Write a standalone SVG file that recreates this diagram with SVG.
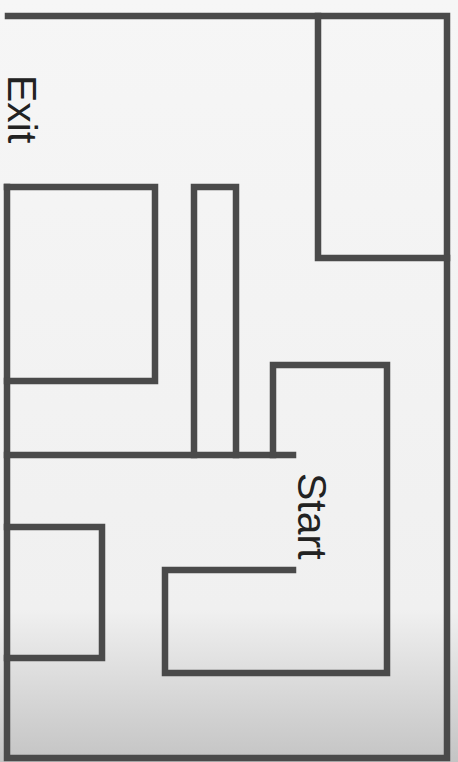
<svg xmlns="http://www.w3.org/2000/svg" width="458" height="762" viewBox="0 0 458 762">
<defs>
<linearGradient id="bg" x1="0" y1="0" x2="0" y2="1">
<stop offset="0" stop-color="#f6f6f6"/>
<stop offset="0.8" stop-color="#f0f0f0"/>
<stop offset="1" stop-color="#c4c4c4"/>
</linearGradient>
<style>
.w{fill:none;stroke:#4a4a4a;stroke-width:6.5;stroke-linecap:square;stroke-linejoin:miter}
.t{font-family:"Liberation Sans",Arial,sans-serif;font-size:41px;fill:#222}
</style>
</defs>
<rect x="0" y="0" width="458" height="762" fill="url(#bg)"/>
<g id="walls">
<g id="outer"><polyline class="w" points="8,16 447,16 447,758 7,758 7,187"/></g>
<g id="topRightRoom"><polyline class="w" points="318,16 318,258 447,258"/></g>
<g id="leftUpperRoom"><polyline class="w" points="7,187 155,187 155,381 7,381"/></g>
<g id="narrowRoom"><polyline class="w" points="194,455 194,187 236,187 236,455"/></g>
<g id="midWall"><polyline class="w" points="7,455 293,455"/></g>
<g id="startRoom"><polyline class="w" points="273,455 273,365 387,365 387,673 165,673 165,570 293,570"/></g>
<g id="leftLowerRoom"><polyline class="w" points="7,527 102,527 102,658 7,658"/></g>
</g>
<g id="labels">
<text class="t" transform="translate(8,75) rotate(90)">Exit</text>
<text class="t" transform="translate(298,473) rotate(90)">Start</text>
</g>
</svg>
